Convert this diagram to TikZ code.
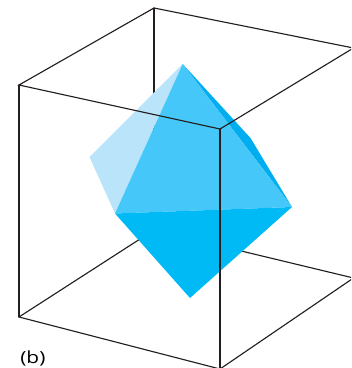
\documentclass[tikz,border=0pt]{standalone}
\usepackage{fontspec}
\setsansfont{Open Sans}
\definecolor{palecyan}{HTML}{B9E4FA}
\definecolor{midcyan}{HTML}{45C8F9}
\definecolor{deepcyan}{HTML}{00BAF5}
\definecolor{shadecyan}{HTML}{00AEEF}
\definecolor{edgegray}{HTML}{231F20}
\begin{document}
\begin{tikzpicture}[x=0.75pt, y=-0.75pt, line cap=round]
	\tikzset{edge/.style={draw=edgegray, line width=0.85pt}}
	\useasboundingbox (0, 0) rectangle (351, 368);
	\clip (0, 0) rectangle (351, 368);
	
	% cube corners
	\coordinate (LT) at (19, 85);
	\coordinate (LB) at (19, 317);
	\coordinate (FT) at (220, 129);
	\coordinate (FB) at (220, 369);
	\coordinate (BT) at (154, 8);
	\coordinate (BB) at (154, 230);
	\coordinate (RT) at (353.5, 48);
	\coordinate (RB) at (353.5, 278);
	
	% octahedron corners
	\coordinate (top) at (182.7, 64);
	\coordinate (back) at (89.5, 157);
	\coordinate (left) at (115, 213.5);
	\coordinate (right) at (292, 207);
	\coordinate (bottom) at (190, 298);
	\coordinate (far) at (250.5, 138);
	
	% hidden edges first
	\draw[edge] (LB) -- (BB) -- (RB);
	\draw[edge] (BT) -- (BB);
	\draw[edge] (LB) -- (FB) -- (RB);
	
	\fill[shadecyan] (top) -- (far) -- (right) -- cycle;
	\fill[palecyan] (top) -- (back) -- (left) -- cycle;
	\fill[midcyan] (top) -- (left) -- (right) -- cycle;
	\fill[deepcyan] (left) -- (right) -- (bottom) -- cycle;
	
	% front edges
	\draw[edge] (BT) -- (LT) -- (FT) -- (RT) -- (BT);
	\draw[edge] (LT) -- (LB);
	\draw[edge] (FT) -- (FB);
	
	\node[font=\sffamily, inner sep=0pt, anchor=base west, xscale=1.25] (label) at (20, 363) {\fontsize{12.5pt}{15pt}\selectfont (b)};
\end{tikzpicture}
\end{document}
